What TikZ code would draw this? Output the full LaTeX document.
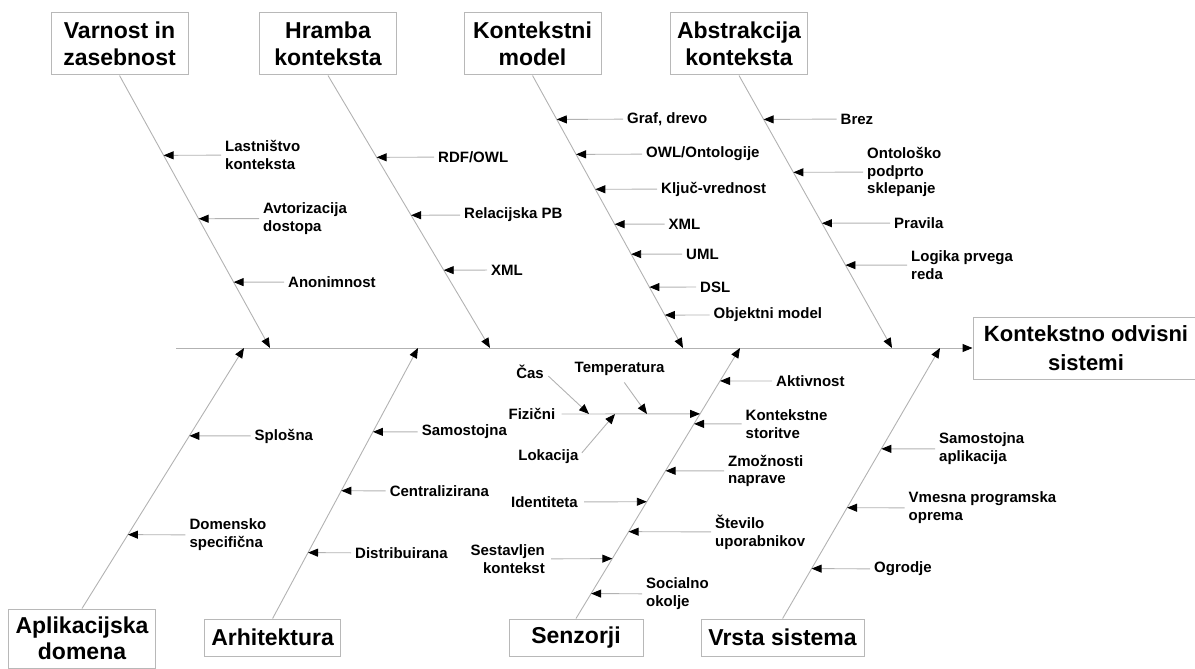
\documentclass[tikz,border=0pt]{standalone}
\usepackage{fontspec}
\setmainfont{Liberation Sans}
\usetikzlibrary{arrows.meta,calc}

\begin{document}
\begin{tikzpicture}[x=1pt,y=1pt]
\tikzstyle{every node}+=[inner sep=0pt]
\tikzstyle{box}=[draw=black!28, line width=1pt, fill=white, align=center, font=\bfseries\fontsize{23}{26.5}\selectfont]
\tikzstyle{topbox}=[box, minimum width=137pt, minimum height=62pt]
\tikzstyle{botbox}=[box, minimum height=37pt]
\tikzstyle{lbl}=[anchor=west, align=left, font=\bfseries\fontsize{15}{17.8}\selectfont]
\tikzstyle{lbll}=[lbl, anchor=east, align=right]
\tikzstyle{bone}=[draw=black!30, line width=0.9pt, -{Triangle[length=10pt,width=8pt,color=black]}]
\tikzstyle{arr}=[bone, shorten <=4pt]
\useasboundingbox (0,0) rectangle (1195,-669);

\node [topbox] (varnost) at (119.5,-44) {Varnost in\\zasebnost};
\node [topbox] (hramba) at (328,-44) {Hramba\\konteksta};
\node [topbox] (kmodel) at (532.5,-44) {Kontekstni\\model};
\node [topbox] (abstr) at (739,-44) {Abstrakcija\\konteksta};
\node [box, minimum width=147pt, minimum height=59pt] (aplik) at (82,-638.5) {Aplikacijska\\domena};
\node [botbox, minimum width=136pt] (arhit) at (272.6,-637.5) {Arhitektura};
\node [botbox, minimum width=134pt] (senz) at (576,-637.5) {Senzorji};
\node [botbox, minimum width=163pt] (vrsta) at (782.6,-637.5) {Vrsta sistema};
\node [box, minimum width=226pt, minimum height=62pt, font=\bfseries\fontsize{22}{28.5}\selectfont] (sistemi) at (1086,-348) {Kontekstno odvisni\\sistemi};

\coordinate (tail) at (176,-348);
\draw [bone, line width=1pt] (tail) -- (sistemi);

\coordinate (vsp) at (270,-348);
\coordinate (hsp) at (490,-348);
\coordinate (ksp) at (683,-348);
\coordinate (asp) at (892,-348);
\coordinate (apsp) at (244,-348);
\coordinate (arsp) at (418,-348);
\coordinate (ssp) at (740,-348);
\coordinate (vrsp) at (940,-348);
\draw [bone] (varnost.south) -- (vsp);
\draw [bone] (hramba.south) -- (hsp);
\draw [bone] (kmodel.south) -- (ksp);
\draw [bone] (abstr.south) -- (asp);
\draw [bone] (aplik.north) -- (apsp);
\draw [bone] (arhit.north) -- (arsp);
\draw [bone] (senz.north) -- (ssp);
\draw [bone] (vrsta.north) -- (vrsp);

\node [lbl] (lastn) at (225,-155) {Lastništvo\\konteksta};
\node [lbl] (avtor) at (263,-218.5) {Avtorizacija\\dostopa};
\node [lbl] (anon) at (288,-282) {Anonimnost};
\coordinate (lastnt) at ($(varnost.south)!{80/273}!(vsp)$);
\coordinate (avtort) at ($(varnost.south)!{143.5/273}!(vsp)$);
\coordinate (anont) at ($(varnost.south)!{207/273}!(vsp)$);
\draw [arr] (lastn) -- (lastnt);
\draw [arr] (avtor) -- (avtort);
\draw [arr] (anon) -- (anont);

\node [lbl] (rdf) at (438,-157) {RDF/OWL};
\node [lbl] (rel) at (464,-215) {Relacijska PB};
\node [lbl] (xmlh) at (491,-270) {XML};
\coordinate (rdft) at ($(hramba.south)!{82/273}!(hsp)$);
\coordinate (relt) at ($(hramba.south)!{140/273}!(hsp)$);
\coordinate (xmlht) at ($(hramba.south)!{195/273}!(hsp)$);
\draw [arr] (rdf) -- (rdft);
\draw [arr] (rel) -- (relt);
\draw [arr] (xmlh) -- (xmlht);

\node [lbl] (graf) at (627,-119) {Graf, drevo};
\node [lbl] (owl) at (646,-154) {OWL/Ontologije};
\node [lbl] (kljuc) at (661,-189) {Ključ-vrednost};
\node [lbl] (xmlk) at (668.5,-224) {XML};
\node [lbl] (uml) at (686,-254) {UML};
\node [lbl] (dsl) at (700,-287) {DSL};
\node [lbl] (obj) at (713.5,-315) {Objektni model};
\coordinate (graft) at ($(kmodel.south)!{44/273}!(ksp)$);
\coordinate (owlt) at ($(kmodel.south)!{79/273}!(ksp)$);
\coordinate (kljuct) at ($(kmodel.south)!{114/273}!(ksp)$);
\coordinate (xmlkt) at ($(kmodel.south)!{149/273}!(ksp)$);
\coordinate (umlt) at ($(kmodel.south)!{179/273}!(ksp)$);
\coordinate (dslt) at ($(kmodel.south)!{212/273}!(ksp)$);
\coordinate (objt) at ($(kmodel.south)!{240/273}!(ksp)$);
\draw [arr] (graf) -- (graft);
\draw [arr] (owl) -- (owlt);
\draw [arr] (kljuc) -- (kljuct);
\draw [arr] (xmlk) -- (xmlkt);
\draw [arr] (uml) -- (umlt);
\draw [arr] (dsl) -- (dslt);
\draw [arr] (obj) -- (objt);

\node [lbl] (brez) at (840.5,-119) {Brez};
\node [lbl] (onto) at (867,-172) {Ontološko\\podprto\\sklepanje};
\node [lbl] (prav) at (894,-223) {Pravila};
\node [lbl] (logika) at (911,-265) {Logika prvega\\reda};
\coordinate (brezt) at ($(abstr.south)!{44/273}!(asp)$);
\coordinate (ontot) at ($(abstr.south)!{97/273}!(asp)$);
\coordinate (pravt) at ($(abstr.south)!{148/273}!(asp)$);
\coordinate (logikat) at ($(abstr.south)!{190/273}!(asp)$);
\draw [arr] (brez) -- (brezt);
\draw [arr] (onto) -- (ontot);
\draw [arr] (prav) -- (pravt);
\draw [arr] (logika) -- (logikat);

\node [lbl] (splosna) at (254.5,-436) {Splošna};
\node [lbl] (domen) at (189.4,-535) {Domensko\\specifična};
\coordinate (splosnat) at ($(aplik.north)!{173/261}!(apsp)$);
\coordinate (doment) at ($(aplik.north)!{74/261}!(apsp)$);
\draw [arr] (splosna) -- (splosnat);
\draw [arr] (domen) -- (doment);

\node [lbl] (samo) at (421.7,-432) {Samostojna};
\node [lbl] (centr) at (389.6,-491) {Centralizirana};
\node [lbl] (distr) at (355,-553) {Distribuirana};
\coordinate (samot) at ($(arhit.north)!{187/271}!(arsp)$);
\coordinate (centrt) at ($(arhit.north)!{128/271}!(arsp)$);
\coordinate (distrt) at ($(arhit.north)!{66/271}!(arsp)$);
\draw [arr] (samo) -- (samot);
\draw [arr] (centr) -- (centrt);
\draw [arr] (distr) -- (distrt);

\node [lbl] (aktiv) at (776,-381) {Aktivnost};
\node [lbl] (kstor) at (745.5,-424) {Kontekstne\\storitve};
\node [lbl] (zmoz) at (728,-471) {Zmožnosti\\naprave};
\node [lbl] (stev) at (715,-532) {Število\\uporabnikov};
\node [lbl] (soc) at (646,-594) {Socialno\\okolje};
\node [lbll] (fiz) at (555.5,-414) {Fizični};
\node [lbll] (ident) at (578,-502) {Identiteta};
\node [lbll] (sest) at (545,-559) {Sestavljen\\kontekst};
\coordinate (aktivt) at ($(senz.north)!{238/271}!(ssp)$);
\coordinate (kstort) at ($(senz.north)!{195/271}!(ssp)$);
\coordinate (zmozt) at ($(senz.north)!{148/271}!(ssp)$);
\coordinate (stevt) at ($(senz.north)!{87/271}!(ssp)$);
\coordinate (soct) at ($(senz.north)!{25/271}!(ssp)$);
\coordinate (fizt) at ($(senz.north)!{205/271}!(ssp)$);
\coordinate (identt) at ($(senz.north)!{117/271}!(ssp)$);
\coordinate (sestt) at ($(senz.north)!{60/271}!(ssp)$);
\draw [arr] (aktiv) -- (aktivt);
\draw [arr] (kstor) -- (kstort);
\draw [arr] (zmoz) -- (zmozt);
\draw [arr] (stev) -- (stevt);
\draw [arr] (soc) -- (soct);
\draw [arr, shorten <=6pt] (fiz) -- (fizt);
\draw [arr, shorten <=6pt] (ident) -- (identt);
\draw [arr, shorten <=6pt] (sest) -- (sestt);

\node [lbll] (cas) at (544,-372) {Čas};
\node [lbl, anchor=center] (temp) at (619.6,-369) {Temperatura};
\node [lbll] (lok) at (578.6,-456.7) {Lokacija};
\coordinate (cast) at (589,-414);
\coordinate (tempt) at (647,-414);
\coordinate (lokt) at (615,-414);
\draw [arr, shorten <=6pt] (cas.east) -- (cast);
\draw [arr, shorten <=8pt] (temp.south) -- (tempt);
\draw [arr, shorten <=5pt] (lok.east) -- (lokt);

\node [lbl] (saapl) at (939,-449) {Samostojna\\aplikacija};
\node [lbl] (vmes) at (908.5,-508) {Vmesna programska\\oprema};
\node [lbl] (ogr) at (874,-569) {Ogrodje};
\coordinate (saaplt) at ($(vrsta.north)!{170/271}!(vrsp)$);
\coordinate (vmest) at ($(vrsta.north)!{111/271}!(vrsp)$);
\coordinate (ogrt) at ($(vrsta.north)!{50/271}!(vrsp)$);
\draw [arr] (saapl) -- (saaplt);
\draw [arr] (vmes) -- (vmest);
\draw [arr] (ogr) -- (ogrt);
\end{tikzpicture}
\end{document}
